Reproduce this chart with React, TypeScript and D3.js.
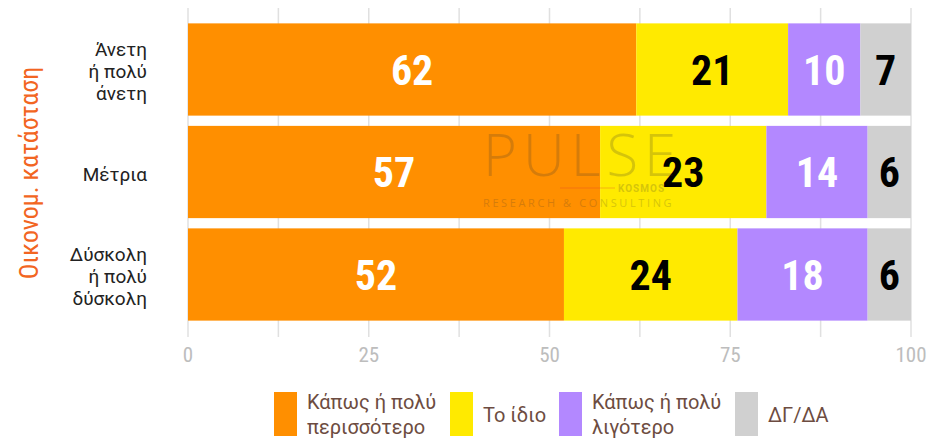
import * as d3 from "d3";

const categories = [["Άνετη", "ή πολύ", "άνετη"], ["Μέτρια"], ["Δύσκολη", "ή πολύ", "δύσκολη"]];
const seriesNames = [["Κάπως ή πολύ", "περισσότερο"], ["Το ίδιο"], ["Κάπως ή πολύ", "λιγότερο"], ["ΔΓ/ΔΑ"]];
const colors = ["#ff8f00", "#ffea00", "#b388ff", "#d0d0d0"];
const labelColors = ["#ffffff", "#000000", "#ffffff", "#000000"];
const values = [
  [62, 21, 10, 7],
  [57, 23, 14, 6],
  [52, 24, 18, 6],
];
const ticks = [0, 25, 50, 75, 100];
const gridTicks = [0, 12.5, 25, 37.5, 50, 62.5, 75, 87.5, 100];

const W = 930;
const H = 439;
const cond = "'Roboto Condensed', 'Liberation Sans Narrow', 'DejaVu Sans Condensed', Roboto, sans-serif";
const reg = "Roboto, 'Noto Sans', sans-serif";

export default function App() {
  const x = d3.scaleLinear().domain([0, 100]).range([188, 911]);
  const y = d3.scaleBand<number>().domain([0, 1, 2]).range([8, 336]).paddingInner(0.1).paddingOuter(0.15);

  const legendX = [274, 450, 559, 735];

  return (
    <svg width={W} height={H} style={{ position: "absolute", left: 0, top: 0 }}>
      {/* grid */}
      {gridTicks.map((t) => (
        <line key={t} x1={x(t)} x2={x(t)} y1={8} y2={337} stroke="#e0e0e0" strokeWidth={1.5} />
      ))}
      {/* bars */}
      {values.map((row, i) => {
        const stack = d3.cumsum(row);
        return row.map((v, j) => {
          const x0 = x(stack[j] - v);
          const x1 = x(stack[j]);
          return (
            <g key={`${i}-${j}`}>
              <rect x={x0} y={y(i)!} width={x1 - x0} height={y.bandwidth()} fill={colors[j]} />
              <text
                x={(x0 + x1) / 2}
                y={y(i)! + y.bandwidth() / 2}
                dy="0.36em"
                textAnchor="middle"
                fontFamily={cond}
                fontStretch="condensed"
                fontWeight="bold"
                fontSize={42}
                fill={labelColors[j]}
              >
                {v}
              </text>
            </g>
          );
        });
      })}
      {/* watermark */}
      <g opacity={0.2} fill="#333">
        <text x={483} y={176} fontFamily="'Open Sans', sans-serif" fontWeight={300} fontSize={58} letterSpacing={6}>
          PULSE
        </text>
        <line x1={560} x2={615} y1={188} y2={188} stroke="#e53935" strokeWidth={1.5} />
        <text x={618} y={192} fontFamily={reg} fontWeight="bold" fontSize={10} letterSpacing={1}>
          KOSMOS
        </text>
        <text x={483} y={207} fontFamily="'Open Sans', sans-serif" fontSize={11} letterSpacing={2.6}>
          RESEARCH &amp; CONSULTING
        </text>
      </g>
      {/* category labels */}
      {categories.map((lines, i) => {
        const cy = y(i)! + y.bandwidth() / 2 + 2;
        return (
          <text key={i} textAnchor="end" fontFamily={reg} fontSize={19} fill="#222">
            {lines.map((l, k) => (
              <tspan key={k} x={147} y={cy + (k - (lines.length - 1) / 2) * 22} dy="0.35em">
                {l}
              </tspan>
            ))}
          </text>
        );
      })}
      {/* axis title */}
      <text
        transform="translate(29,173) rotate(-90)"
        textAnchor="middle"
        dy="0.35em"
        fontFamily={cond}
        fontStretch="condensed"
        fontSize={26}
        fill="#f26522"
      >
        Οικονομ. κατάσταση
      </text>
      {/* x tick labels */}
      {ticks.map((t) => (
        <text key={t} x={x(t)} y={355} dy="0.35em" textAnchor="middle" fontFamily={cond} fontStretch="condensed" fontSize={21} fill="#bdbdbd">
          {t}
        </text>
      ))}
      {/* legend */}
      {seriesNames.map((lines, j) => (
        <g key={j}>
          <rect x={legendX[j]} y={392} width={23} height={44} fill={colors[j]} />
          <text fontFamily={reg} fontSize={20} fill="#6d4c41">
            {lines.map((l, k) => (
              <tspan key={k} x={legendX[j] + 33} y={414.5 + (k - (lines.length - 1) / 2) * 25} dy="0.35em">
                {l}
              </tspan>
            ))}
          </text>
        </g>
      ))}
    </svg>
  );
}
